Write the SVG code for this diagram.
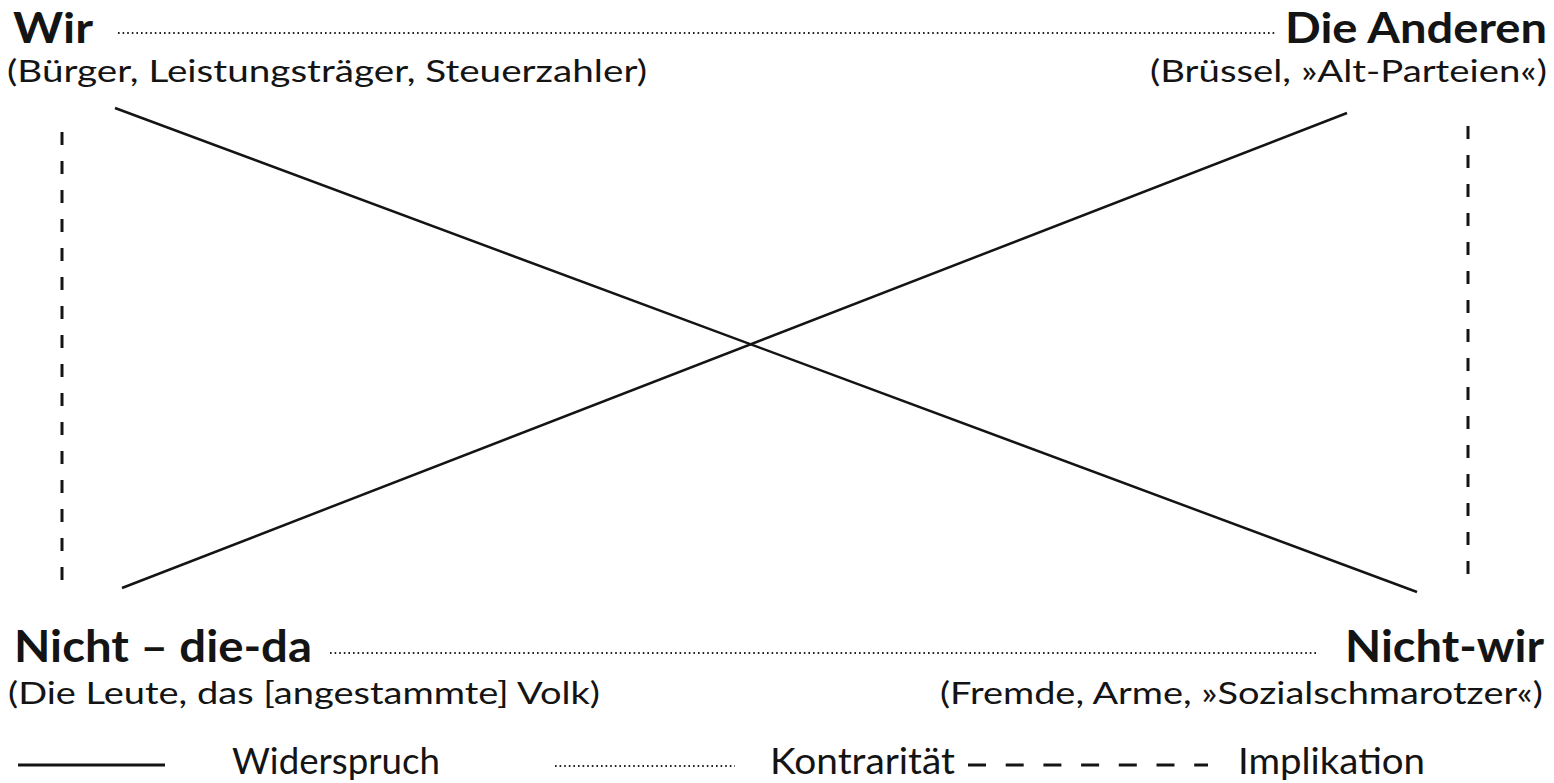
<svg xmlns="http://www.w3.org/2000/svg" width="1554" height="783" viewBox="0 0 1554 783">
<style>
text{font-family:Lato,"Open Sans","Liberation Sans",sans-serif;fill:#141414}
.t{font-weight:700;font-size:42px}
.b{font-weight:700;font-size:44px}
.s{font-size:30px}
.l{font-size:36px}
.solid{stroke:#141414;stroke-width:2.5;fill:none}
.dot{stroke:#222;stroke-width:1.8;stroke-dasharray:1.6 3;fill:none}
.dash{stroke:#141414;stroke-width:3;stroke-dasharray:13 16;fill:none}
</style>
<rect width="1554" height="783" fill="#fff"/>
<g id="node-wir">
<text class="t" x="13" y="43" textLength="80" lengthAdjust="spacingAndGlyphs">Wir</text>
<text class="s" x="7" y="82" textLength="640" lengthAdjust="spacingAndGlyphs">(Bürger, Leistungsträger, Steuerzahler)</text>
</g>
<g id="node-die-anderen">
<text class="t" x="1285" y="43" textLength="262" lengthAdjust="spacingAndGlyphs">Die Anderen</text>
<text class="s" x="1150" y="82" textLength="397" lengthAdjust="spacingAndGlyphs">(Brüssel, »Alt-Parteien«)</text>
</g>
<g id="node-nicht-die-da">
<text class="b" x="14" y="662" textLength="298" lengthAdjust="spacingAndGlyphs">Nicht – die-da</text>
<text class="s" x="8" y="704" textLength="592" lengthAdjust="spacingAndGlyphs">(Die Leute, das [angestammte] Volk)</text>
</g>
<g id="node-nicht-wir">
<text class="b" x="1345" y="662" textLength="199" lengthAdjust="spacingAndGlyphs">Nicht-wir</text>
<text class="s" x="940" y="704" textLength="603" lengthAdjust="spacingAndGlyphs">(Fremde, Arme, »Sozialschmarotzer«)</text>
</g>
<g id="connectors">
<line class="dot" x1="118" y1="33" x2="1277" y2="33"/>
<line class="dot" x1="330" y1="653" x2="1318" y2="653"/>
<line class="solid" x1="115" y1="108" x2="1417" y2="592"/>
<line class="solid" x1="122" y1="588" x2="1347" y2="113"/>
<line class="dash" x1="62" y1="132" x2="62" y2="582"/>
<line class="dash" x1="1468" y1="126" x2="1468" y2="582"/>
</g>
<g id="legend">
<line class="solid" x1="18" y1="765" x2="165" y2="765" style="stroke-width:3"/>
<text class="l" x="232" y="774" textLength="208" lengthAdjust="spacingAndGlyphs">Widerspruch</text>
<line class="dot" x1="555" y1="766" x2="735" y2="766"/>
<text class="l" x="770" y="774" textLength="185" lengthAdjust="spacingAndGlyphs">Kontrarität</text>
<line class="dash" x1="968" y1="765" x2="1208" y2="765" style="stroke-dasharray:18 19.7"/>
<text class="l" x="1238" y="774" textLength="187" lengthAdjust="spacingAndGlyphs">Implikation</text>
</g>
</svg>
